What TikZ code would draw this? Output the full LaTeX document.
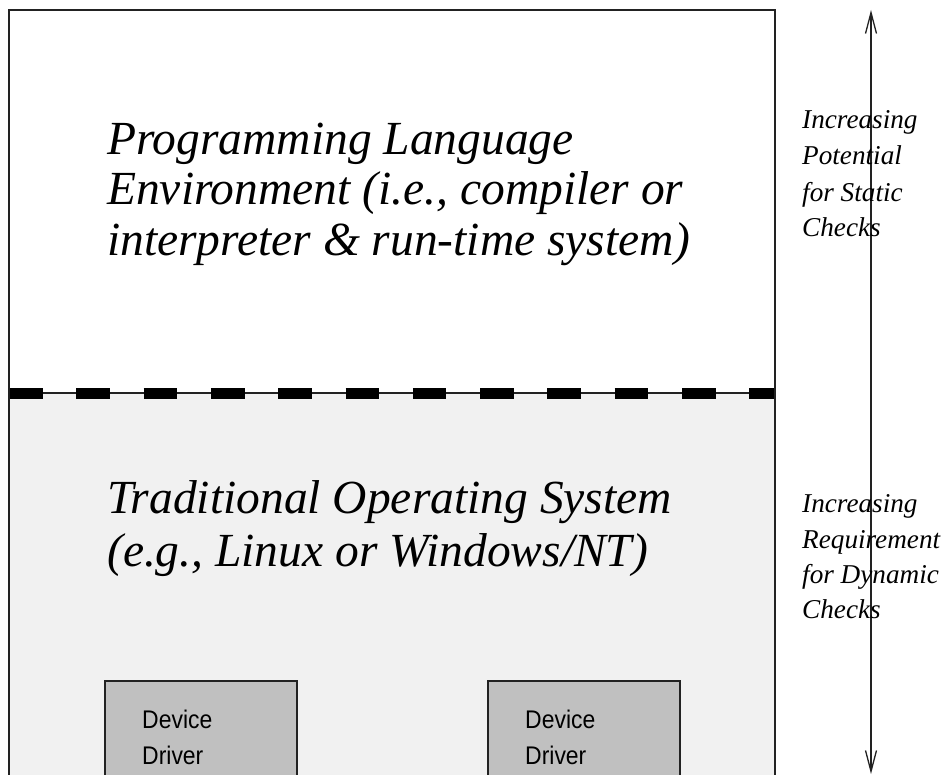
\documentclass[tikz,border=0pt]{standalone}
\usepackage{fontspec}
\usepackage{graphicx}
\setmainfont{Liberation Serif}
\setsansfont{Liberation Sans}
\usetikzlibrary{arrows.meta}

\definecolor{osgray}{HTML}{F1F1F1}
\definecolor{drvgray}{HTML}{C0C0C0}
\definecolor{edge}{HTML}{222222}

\tikzset{
  frame/.style={draw=edge, line width=1.4pt},
  bigtext/.style={anchor=base west, inner sep=0pt,
    font=\fontsize{47.5}{50}\selectfont\itshape},
  sidetext/.style={anchor=base west, inner sep=0pt,
    font=\fontsize{27.2}{36}\selectfont\itshape},
  drvbox/.style={draw=edge, line width=1.1pt, fill=drvgray},
  drvtext/.style={anchor=base west, inner sep=0pt,
    font=\sffamily\fontsize{25.5}{36}\selectfont},
  barb/.style={-{Straight Barb[length=21pt,width=11pt]}},
}

\begin{document}
\begin{tikzpicture}[x=1pt,y=-1pt]
\useasboundingbox (0,0) rectangle (951,775);
\clip (0,0) rectangle (951,775);

% layers: language environment (top) and operating system (bottom)
\fill[white] (9,10) rectangle (775,393);
\fill[osgray] (9,393) rectangle (775,800);

% device driver boxes
\draw[drvbox] (105,681) rectangle (297,800);
\draw[drvbox] (488,681) rectangle (680,800);

% boundary between the two layers
\draw[edge, line width=1.1pt] (9,393) -- (775,393);
\draw[black, line width=11pt, dash pattern=on 33.6pt off 33.7pt] (9,393.5) -- (775,393.5);

% outer frame
\draw[frame] (9,800) -- (9,10) -- (775,10) -- (775,800);

% texts of the upper layer
\node[bigtext] (pl1) at (107,155) {Programming Language};
\node[bigtext] (pl2) at (107,205) {Environment (i.e., compiler or};
\node[bigtext] (pl3) at (107,256) {interpreter \& run-time system)};

% texts of the lower layer
\node[bigtext] (os1) at (107,514) {Traditional Operating System};
\node[bigtext] (os2) at (107,566) {(e.g., Linux or Windows/NT)};

% device drivers
\node[drvtext] (d1a) at (142,728) {\scalebox{0.9}[1]{Device}};
\node[drvtext] (d1b) at (142,764) {\scalebox{0.9}[1]{Driver}};
\node[drvtext] (d2a) at (525,728) {\scalebox{0.9}[1]{Device}};
\node[drvtext] (d2b) at (525,764) {\scalebox{0.9}[1]{Driver}};

% double-headed scale arrow
\coordinate (atop) at (871,10);
\coordinate (abot) at (871,774);
\coordinate (amid) at (871,392);
\draw[edge, line width=1.3pt, barb] (amid) -- (atop);
\draw[edge, line width=1.3pt, barb] (amid) -- (abot);

% side annotations
\node[sidetext] (st1) at (802,129) {Increasing};
\node[sidetext] (st2) at (802,165) {Potential};
\node[sidetext] (st3) at (802,202) {for Static};
\node[sidetext] (st4) at (802,237) {Checks};

\node[sidetext] (dy1) at (802,513) {Increasing};
\node[sidetext] (dy2) at (802,548) {Requirement};
\node[sidetext] (dy3) at (802,583) {for Dynamic};
\node[sidetext] (dy4) at (802,618) {Checks};
\end{tikzpicture}
\end{document}
